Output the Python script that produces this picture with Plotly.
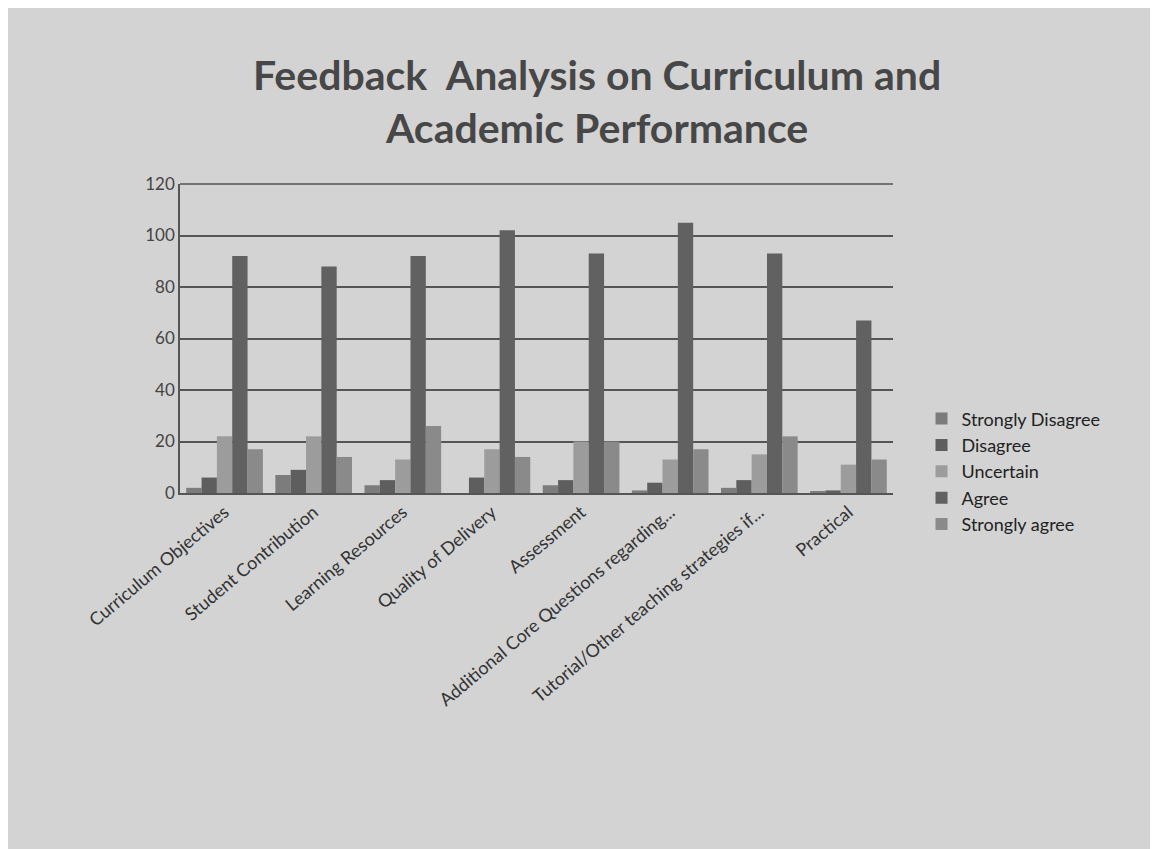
import plotly.graph_objects as go

categories = [
    "Curriculum Objectives",
    "Student Contribution",
    "Learning Resources",
    "Quality of Delivery",
    "Assessment",
    "Additional Core Questions regarding...",
    "Tutorial/Other teaching strategies if...",
    "Practical",
]

strongly_disagree = [2, 7, 3, 0, 3, 1, 2, 0.5]
disagree = [6, 9, 5, 6, 5, 4, 5, 1]
uncertain = [22, 22, 13, 17, 20, 13, 15, 11]
agree = [92, 88, 92, 102, 93, 105, 93, 67]
strongly_agree = [17, 14, 26, 14, 20, 17, 22, 13]

series = [
    ("Strongly Disagree", strongly_disagree, "#7c7c7c"),
    ("Disagree", disagree, "#5e5e5e"),
    ("Uncertain", uncertain, "#9c9c9c"),
    ("Agree", agree, "#616161"),
    ("Strongly agree", strongly_agree, "#8a8a8a"),
]

fig = go.Figure()
for name, vals, color in series:
    fig.add_trace(go.Bar(x=categories, y=vals, name=name, marker_color=color,
                         marker_line_width=0))

fig.update_layout(
    width=1158,
    height=849,
    barmode="group",
    bargap=0.14,
    bargroupgap=0,
    paper_bgcolor="#d3d3d3",
    plot_bgcolor="#d3d3d3",
    margin=dict(l=172, r=273, t=176, b=364),
    legend=dict(
        x=1.04, xanchor="left", y=0.3, yanchor="top",
        font=dict(family="Lato, 'Open Sans', sans-serif", size=18, color="#222222"),
        bgcolor="rgba(0,0,0,0)", tracegroupgap=8,
    ),
    font=dict(family="Lato, 'Open Sans', sans-serif", color="#333333"),
)

fig.add_annotation(
    text="<b>Feedback  Analysis on Curriculum and<br>Academic Performance</b>",
    xref="paper", yref="paper", x=0.585, y=1, xanchor="center", yanchor="bottom",
    yshift=30, showarrow=False, align="center",
    font=dict(family="Lato, 'Open Sans', sans-serif", size=41, color="#474747"),
)

fig.update_yaxes(
    range=[0, 120], dtick=20, showgrid=True, gridcolor="#555555", gridwidth=1.5,
    showline=True, linecolor="#555555", linewidth=1.5, mirror=False,
    tickfont=dict(size=17, color="#444444"), zeroline=False, ticks="",
)
fig.update_xaxes(
    tickangle=-40, tickfont=dict(size=18, color="#333333"),
    showline=True, linecolor="#555555", linewidth=1.5,
)
fig.add_shape(type="line", xref="paper", yref="paper", x0=0, x1=1, y0=1, y1=1,
              line=dict(color="#555555", width=1.5))

fig.write_html("out.html")
